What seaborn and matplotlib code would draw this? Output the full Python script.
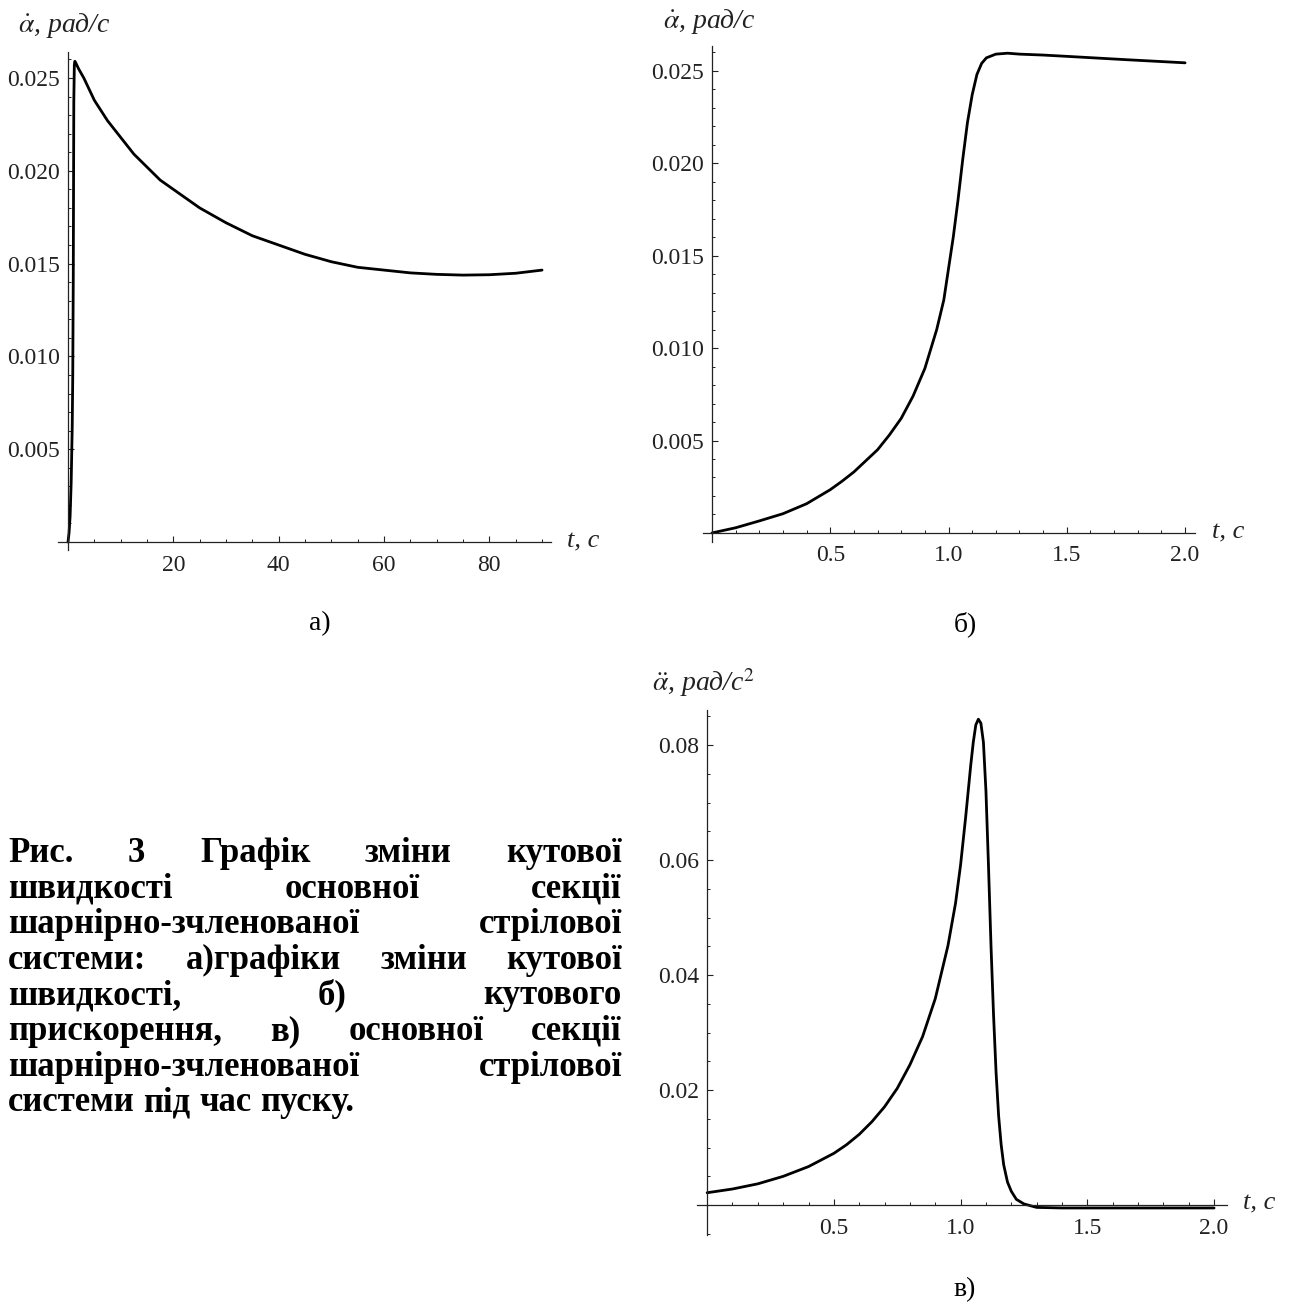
import matplotlib
matplotlib.use("Agg")
import matplotlib.pyplot as plt
import seaborn as sns
from matplotlib.ticker import MultipleLocator, FixedLocator, FormatStrFormatter

# --- дані, зчитані з графіків ---
# а) кутова швидкість, довгий інтервал
a_t = [0, 0.2, 0.4, 0.6, 0.8, 0.9, 1.0, 1.1, 1.2, 1.3, 1.5, 2, 3, 4, 5, 7.5, 10, 12.5,
       15, 17.5, 20, 25, 30, 35, 40, 45, 50, 55, 60, 65, 70, 75, 80, 85, 90]
a_v = [0, 0.0005, 0.0014, 0.0032, 0.0062, 0.0089, 0.0143, 0.0237, 0.0257, 0.0259, 0.0258,
       0.0255, 0.0250, 0.0244, 0.0238, 0.0227, 0.0218, 0.0209, 0.0202, 0.0195, 0.0190,
       0.0180, 0.0172, 0.0165, 0.0160, 0.0155, 0.0151, 0.0148, 0.01465, 0.0145, 0.01442,
       0.01438, 0.0144, 0.01448, 0.01465]

# б) кутова швидкість під час пуску
b_t = [0, 0.1, 0.2, 0.3, 0.4, 0.5, 0.55, 0.6, 0.65, 0.7, 0.75, 0.8, 0.85, 0.9, 0.95, 0.98,
       1.0, 1.02, 1.04, 1.06, 1.08, 1.1, 1.12, 1.14, 1.16, 1.18, 1.2, 1.25, 1.3, 1.4, 1.5,
       1.75, 2.0]
b_v = [0, 0.00028, 0.00065, 0.00104, 0.00158, 0.00234, 0.0028, 0.0033, 0.0039, 0.0045,
       0.0053, 0.0062, 0.0074, 0.0089, 0.0110, 0.0126, 0.0143, 0.0160, 0.0180, 0.0202,
       0.0222, 0.0237, 0.0248, 0.0254, 0.0257, 0.0258, 0.0259, 0.02595, 0.0259, 0.02585,
       0.02578, 0.0256, 0.02543]

# в) кутове прискорення
c_t = [0, 0.1, 0.2, 0.3, 0.4, 0.5, 0.55, 0.6, 0.65, 0.7, 0.75, 0.8, 0.85, 0.9, 0.95, 0.98,
       1.0, 1.02, 1.04, 1.05, 1.06, 1.07, 1.08, 1.09, 1.10, 1.11, 1.12, 1.13, 1.14, 1.15,
       1.16, 1.17, 1.185, 1.2, 1.22, 1.25, 1.3, 1.4, 1.6, 1.8, 2.0]
c_v = [0.00215, 0.0028, 0.0037, 0.0050, 0.0067, 0.0090, 0.0105, 0.0123, 0.0145, 0.0171,
       0.0203, 0.0244, 0.0293, 0.0359, 0.0451, 0.0525, 0.0592, 0.0675, 0.0765, 0.0805,
       0.0835, 0.0845, 0.0838, 0.0805, 0.0720, 0.0590, 0.0450, 0.0330, 0.0230, 0.0155,
       0.0105, 0.0070, 0.0040, 0.0024, 0.0010, 0.0002, -0.0004, -0.0005, -0.0005, -0.0005,
       -0.0005]

a_xticks = [20, 40, 60, 80]
a_yticks = [0.005, 0.010, 0.015, 0.020, 0.025]
b_xticks = [0.5, 1.0, 1.5, 2.0]
b_yticks = [0.005, 0.010, 0.015, 0.020, 0.025]
c_xticks = [0.5, 1.0, 1.5, 2.0]
c_yticks = [0.02, 0.04, 0.06, 0.08]

caption = ["Рис. 3 Графік зміни кутової",
           "швидкості основної секції",
           "шарнірно-зчленованої стрілової",
           "системи: а)графіки зміни кутової",
           "швидкості, б) кутового",
           "прискорення, в) основної секції",
           "шарнірно-зчленованої стрілової",
           "системи під час пуску."]

sns.set_theme(style="white")
plt.rcParams["font.family"] = ["Liberation Serif", "DejaVu Serif"]
plt.rcParams["mathtext.fontset"] = "stix"

W, H = 1295, 1310
fig = plt.figure(figsize=(W / 100, H / 100), dpi=100)


def px(x, y):
    return x / W, 1 - y / H


def make_ax(x0, x1, xlim, ytop, ybot, ylim):
    ax = fig.add_axes([x0 / W, 1 - ybot / H, (x1 - x0) / W, (ybot - ytop) / H])
    ax.set_xlim(xlim)
    ax.set_ylim(ylim)
    ax.patch.set_alpha(0)
    ax.grid(False)
    for s in ["top", "right"]:
        ax.spines[s].set_visible(False)
    for s in ["left", "bottom"]:
        ax.spines[s].set_position(("data", 0))
        ax.spines[s].set_linewidth(0.9)
        ax.spines[s].set_color("#222222")
    ax.tick_params(which="both", direction="in", bottom=True, left=True,
                   colors="#222222", labelsize=17, labelcolor="#222222")
    ax.tick_params(which="major", length=4.5, width=0.8, pad=6)
    ax.tick_params(axis="x", which="major", pad=9)
    ax.tick_params(which="minor", length=2.3, width=0.7)
    return ax


def style_ticks(ax, xt, yt, xminor, yminor, yfmt, xfmt):
    ax.xaxis.set_major_locator(FixedLocator(xt))
    ax.yaxis.set_major_locator(FixedLocator(yt))
    ax.xaxis.set_minor_locator(MultipleLocator(xminor))
    ax.yaxis.set_minor_locator(MultipleLocator(yminor))
    ax.yaxis.set_major_formatter(FormatStrFormatter(yfmt))
    ax.xaxis.set_major_formatter(FormatStrFormatter(xfmt))
    ax.set_xlabel("")
    ax.set_ylabel("")


# а)
ax1 = make_ax(58, 551, (-1.9, 91.7), 52, 550, (-0.00043, 0.0264))
sns.lineplot(x=a_t, y=a_v, ax=ax1, color="black", linewidth=2.0)
style_ticks(ax1, a_xticks, a_yticks, 5, 0.001, "%.3f", "%d")

# б)
ax2 = make_ax(703, 1195, (-0.038, 2.042), 46, 542, (-0.00049, 0.02634))
sns.lineplot(x=b_t, y=b_v, ax=ax2, color="black", linewidth=2.0)
style_ticks(ax2, b_xticks, b_yticks, 0.1, 0.001, "%.3f", "%.1f")

# в)
ax3 = make_ax(697, 1227, (-0.04, 2.051), 710, 1235, (-0.0052, 0.0861))
sns.lineplot(x=c_t, y=c_v, ax=ax3, color="black", linewidth=2.0)
style_ticks(ax3, c_xticks, c_yticks, 0.1, 0.005, "%.2f", "%.1f")

# підписи осей
lab = dict(fontsize=20, style="italic", va="center", ha="left", color="#222222")
fig.text(*px(18, 25), r"$\dot{\alpha}$, рад/с", **lab)
fig.text(*px(663, 22), r"$\dot{\alpha}$, рад/с", **lab)
fig.text(*px(652, 683), r"$\ddot{\alpha}$, рад/с$^2$", **lab)
tlab = dict(fontsize=19, style="italic", va="center", ha="left", color="#222222")
fig.text(*px(567, 541), "t, c", **tlab)
fig.text(*px(1212, 532), "t, c", **tlab)
fig.text(*px(1243, 1203), "t, c", **tlab)

sub = dict(fontsize=20, va="center", ha="center", color="black")
fig.text(*px(320, 624), "а)", **sub)
fig.text(*px(965, 624), "б)", **sub)
fig.text(*px(965, 1290), "в)", **sub)

# підпис рисунка, вирівняний по ширині
fig.canvas.draw()
rend = fig.canvas.get_renderer()
cx0, cx1 = 8, 622
fs = 25
for i, line in enumerate(caption):
    base = 862 + 35.6 * i
    words = line.split(" ")
    txts = [fig.text(0, 0, w, fontsize=fs, fontweight="bold", va="baseline",
                     ha="left", color="black") for w in words]
    widths = [t.get_window_extent(rend).width for t in txts]
    if i < len(caption) - 1 and len(words) > 1:
        gap = (cx1 - cx0 - sum(widths)) / (len(words) - 1)
    else:
        gap = 0.25 * fs * 100 / 72
    x = cx0
    for t, w in zip(txts, widths):
        t.set_position(px(x, base))
        x += w + gap

fig.savefig("out.png", dpi=100)
